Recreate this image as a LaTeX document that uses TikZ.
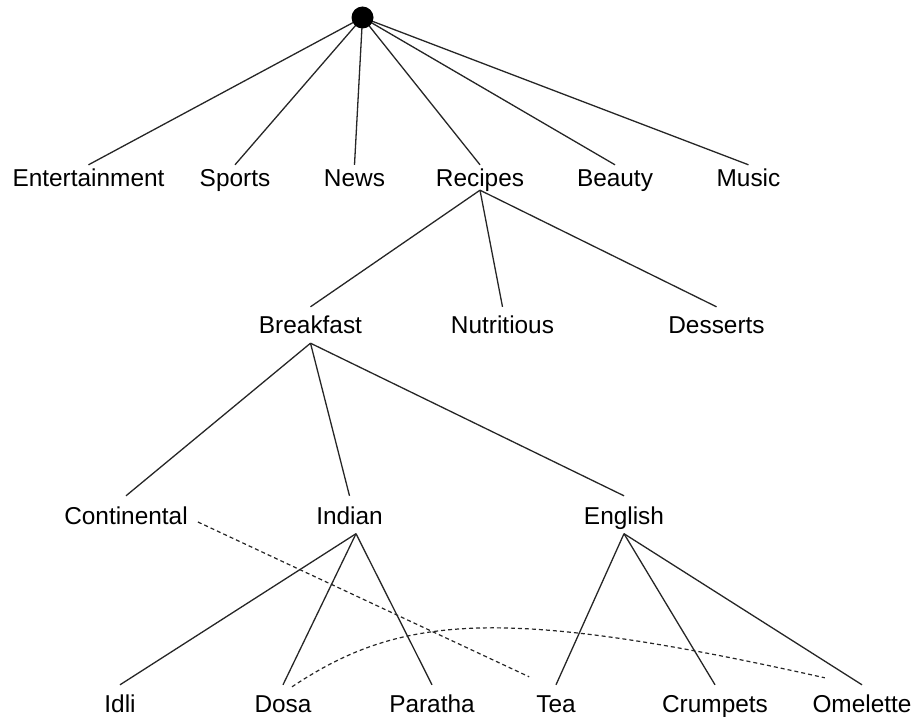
\documentclass[tikz,border=0pt]{standalone}
\usepackage{fontspec}
\setmainfont{Liberation Sans}
\begin{document}
\begin{tikzpicture}[x=1pt,y=-1pt,
  lbl/.style={font=\fontsize{24.4}{29}\selectfont, inner sep=0pt, anchor=base, text=black},
  lvone/.style={lbl, text height=21.5pt, text depth=3.5pt},
  lvtwo/.style={lbl, text height=26pt, text depth=10pt},
  lvthree/.style={lbl, text height=28pt, text depth=9.5pt},
  lvfour/.style={lbl, text height=27pt, text depth=0pt},
  edge/.style={draw=black!85, line width=1.3pt},
  dashedge/.style={draw=black!85, line width=1.2pt, dash pattern=on 4pt off 3pt}]
\useasboundingbox (0,0) rectangle (914,717);
\node[circle, inner sep=0pt, minimum size=22pt] (root) at (362.5,17.5) {};
% level 1
\node[lvone] (ent) at (88.5,186.5) {Entertainment};
\node[lvone] (spo) at (235,186.5) {Sports};
\node[lvone] (new) at (354.5,186.5) {News};
\node[lvone] (rec) at (480,186.5) {Recipes};
\node[lvone] (bea) at (615,186.5) {Beauty};
\node[lvone] (mus) at (748.5,186.5) {Music};
% level 2
\node[lvtwo] (bre) at (310.5,333) {Breakfast};
\node[lvtwo] (nut) at (502.5,333) {Nutritious};
\node[lvtwo] (des) at (716.5,333) {Desserts};
% level 3
\node[lvthree] (con) at (126,524) {Continental};
\node[lvthree] (ind) at (349.5,524) {Indian};
\node[lvthree] (eng) at (624,524) {English};
% level 4
\node[lvfour] (idl) at (120,712) {Idli};
\node[lvfour] (dos) at (283,712) {Dosa};
\node[lvfour] (par) at (432,712) {Paratha};
\node[lvfour] (tea) at (556,712) {Tea};
\node[lvfour] (cru) at (715,712) {Crumpets};
\node[lvfour] (ome) at (862,712) {Omelette};
% edges
\foreach \c in {ent,spo,new,rec,bea,mus} \draw[edge] (root.center) -- (\c.north);
\foreach \c in {bre,nut,des} \draw[edge] (rec.south) -- (\c.north);
\foreach \c in {con,ind,eng} \draw[edge] (bre.south) -- (\c.north);
\foreach \c in {idl,dos,par} \draw[edge] ([xshift=6.5pt]ind.south) -- (\c.north);
\foreach \c in {tea,cru,ome} \draw[edge] (eng.south) -- (\c.north);
% dashed connectors
\draw[dashedge] ([xshift=10pt,yshift=2pt]con.base east) -- ([xshift=-7pt,yshift=8pt]tea.north west);
\draw[dashedge] ([xshift=9pt,yshift=-2pt]dos.north) .. controls (400,615) and (500,605) .. ([xshift=12.5pt,yshift=7pt]ome.north west);
% root dot on top
\fill[black] (root.center) circle[radius=11pt];
\end{tikzpicture}
\end{document}
